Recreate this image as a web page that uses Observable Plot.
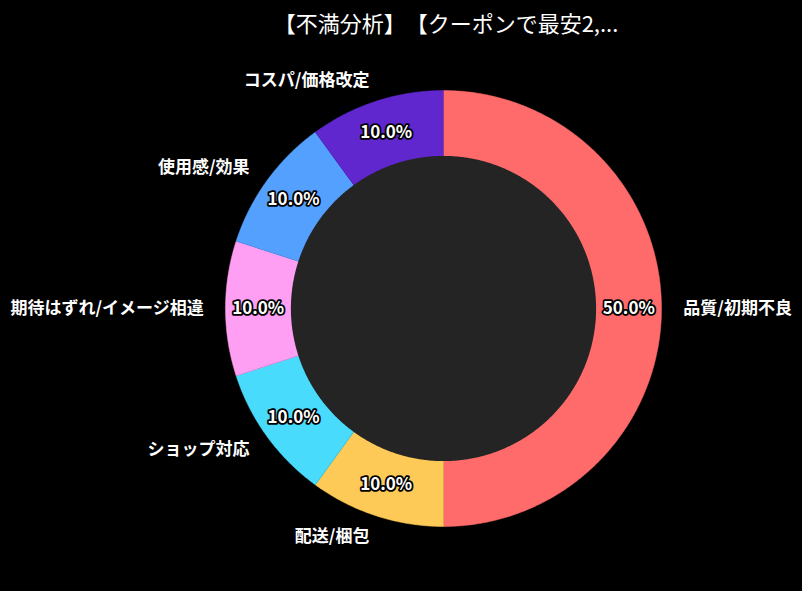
<!DOCTYPE html>
<html><head><meta charset="utf-8">
<script src="https://cdn.jsdelivr.net/npm/d3@7"></script>
<script src="https://cdn.jsdelivr.net/npm/@observablehq/plot@0.6"></script>
<style>
body{margin:0;background:#000;width:802px;height:591px;overflow:hidden;font-family:"Noto Sans CJK JP",sans-serif;text-spacing-trim:space-all;}
#title{height:40px;line-height:44px;width:892px;text-align:center;color:#fff;font-size:22px;white-space:nowrap;text-spacing-trim:space-all;}
svg text{text-spacing-trim:space-all;}
</style></head><body>
<div id="title"></div>
<div id="chart"></div>
<script>
const title = "【不満分析】【クーポンで最安2,...";
const categories = ["品質/初期不良","配送/梱包","ショップ対応","期待はずれ/イメージ相違","使用感/効果","コスパ/価格改定"];
const values = [50, 10, 10, 10, 10, 10];
const colors = ["#FF6B6B","#FECA57","#48DBFB","#FF9FF3","#54A0FF","#5F27CD"];

document.getElementById("title").textContent = title;

const data = categories.map((c, i) => ({category: c, value: values[i]}));
const total = d3.sum(values);
const arcs = d3.pie().sort(null).value(d => d.value)(data);

const innerR = 0.7, labelR = 1.1, pctR = 0.85;
const step = Math.PI / 360;

// wedge polygons
const wedgePts = [];
arcs.forEach(a => {
  wedgePts.push({category: a.data.category, x: 0, y: 0});
  const n = Math.max(2, Math.ceil((a.endAngle - a.startAngle) / step));
  for (let k = 0; k <= n; k++) {
    const t = a.startAngle + (a.endAngle - a.startAngle) * k / n;
    wedgePts.push({category: a.data.category, x: Math.sin(t), y: Math.cos(t)});
  }
});
// centre hole
const hole = d3.range(0, 721).map(k => {
  const t = k * step;
  return {x: innerR * Math.sin(t), y: innerR * Math.cos(t)};
});

const labels = arcs.map(a => {
  const m = (a.startAngle + a.endAngle) / 2;
  return {
    category: a.data.category,
    pct: (100 * a.data.value / total).toFixed(1) + "%",
    lx: labelR * Math.sin(m), ly: labelR * Math.cos(m),
    px: pctR * Math.sin(m), py: pctR * Math.cos(m)
  };
});

const chart = Plot.plot({
  width: 802,
  height: 551,
  margin: 0,
  style: {background: "#000", fontFamily: "'Noto Sans CJK JP', sans-serif"},
  x: {domain: [-2.0321, 1.6468], axis: null},
  y: {domain: [-1.2982, 1.2294], axis: null},
  color: {domain: categories, range: colors},
  marks: [
    Plot.line(wedgePts, {x: "x", y: "y", z: "category", fill: "category", stroke: "category", strokeWidth: 0.5}),
    Plot.line(hole, {x: "x", y: "y", fill: "#242424", stroke: "none"}),
    Plot.text(labels, {x: "px", y: "py", text: "pct", fill: "#fff", stroke: "#000", strokeWidth: 3.5,
      fontSize: 17, fontWeight: "bold"}),
    Plot.text(labels.filter(d => d.lx >= 0), {x: "lx", y: "ly", text: "category", fill: "#fff",
      fontSize: 17, fontWeight: "bold", textAnchor: "start"}),
    Plot.text(labels.filter(d => d.lx < 0), {x: "lx", y: "ly", text: "category", fill: "#fff",
      fontSize: 17, fontWeight: "bold", textAnchor: "end"})
  ]
});
document.getElementById("chart").appendChild(chart);
</script>
</body></html>
